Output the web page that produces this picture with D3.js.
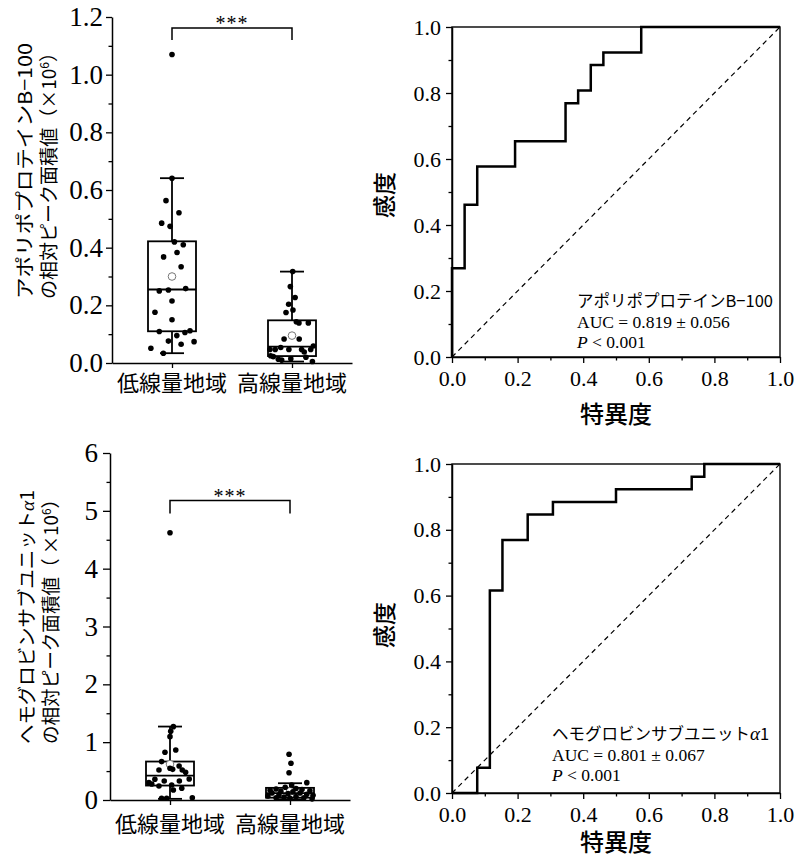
<!DOCTYPE html>
<html><head><meta charset="utf-8">
<script src="https://cdn.jsdelivr.net/npm/d3@7"></script>
<style>
body{margin:0;background:#fff}
svg{display:block}
</style>
</head><body>
<svg id="c" width="796" height="857"></svg>
<script>
// ---------------- DATA ----------------
const categories = ["低線量地域", "高線量地域"];

// Apolipoprotein B-100 relative peak area (×10^6)
const apoLowValues  = [1.07, 0.641, 0.563, 0.521, 0.485, 0.474, 0.420, 0.410, 0.383, 0.368, 0.334, 0.250, 0.253, 0.258, 0.215, 0.176, 0.150, 0.109, 0.106, 0.112, 0.095, 0.076, 0.065, 0.074, 0.051, 0.034];
const apoLowJitter  = [0, 0, -0.25, 0.29, -0.43, -0.08, 0.10, 0.47, 0.21, -0.35, 0.38, -0.53, -0.15, 0.57, 0, -0.71, 0, -0.53, 0.54, 0.75, 0.20, -0.15, 0.38, 0.92, -0.88, -0.36];
const apoHighValues = [0.317, 0.265, 0.227, 0.204, 0.184, 0.175, 0.143, 0.139, 0.139, 0.083, 0.083, 0.047, 0.047, 0.054, 0.047, 0.047, 0.038, 0.047, 0.059, 0.025, 0.022, 0.013, 0.010, 0.015, 0.020, 0.005];
const apoHighJitter = [0.03, -0.07, 0.13, -0.14, 0.04, -0.25, 0.18, 0.29, 0.68, -0.33, 0.30, -0.92, -0.70, -0.47, -0.13, 0.40, 0.51, 0.78, 0.89, -0.89, -0.78, -0.57, -0.43, -0.05, 0.58, 0.85];
// [whiskerLow, Q1, median, Q3, whiskerHigh, mean]
const apoLowStats  = [0.034, 0.110, 0.255, 0.422, 0.641, 0.300];
const apoHighStats = [0.005, 0.024, 0.057, 0.148, 0.317, 0.095];
const apoTicks = [0, 0.2, 0.4, 0.6, 0.8, 1.0, 1.2];
const apoMinorTicks = [0.1, 0.3, 0.5, 0.7, 0.9, 1.1];

// Hemoglobin subunit alpha 1 relative peak area (×10^6)
const hbLowValues  = [4.62, 1.268, 1.19, 1.095, 0.825, 0.865, 0.663, 0.548, 0.530, 0.588, 0.519, 0.479, 0.519, 0.363, 0.329, 0.358, 0.329, 0.300, 0.277, 0.242, 0.260, 0.173, 0.202, 0.029, 0.029, 0.040];
const hbLowJitter  = [0, 0.14, 0.03, 0, -0.21, 0.24, -0.35, 0, 0.11, 0.38, 0.51, 0.65, -0.46, 0.80, 0.39, -0.63, -0.24, -0.88, -0.76, -0.46, 0.07, 0.14, 0.49, -0.35, -0.14, 0.93];
const hbHighValues = [0.79, 0.635, 0.472, 0.30, 0.26, 0.22, 0.20, 0.19, 0.18, 0.17, 0.15, 0.16, 0.14, 0.12, 0.11, 0.12, 0.10, 0.09, 0.08, 0.07, 0.06, 0.05, 0.04, 0.04, 0.03, 0.02];
const hbHighJitter = [-0.04, 0.04, -0.04, 0.70, 0.07, -0.20, 0.25, -0.58, 0.50, -0.83, -0.38, 0.83, 0.12, -0.75, -0.08, 0.42, 0.70, -0.46, 0.96, -0.92, 0.25, -0.25, -0.58, 0.58, 0, 0.92];
const hbLowStats  = [0.02, 0.25, 0.42, 0.665, 1.27, 0.62];
const hbHighStats = [0.01, 0.04, 0.12, 0.21, 0.29, 0.15];
const hbTicks = [0, 1, 2, 3, 4, 5, 6];
const hbMinorTicks = [0.5, 1.5, 2.5, 3.5, 4.5, 5.5];

// ROC curves (1 - specificity, sensitivity) step corners
const roc1Fpr = [0, 0, 0.0385, 0.0769, 0.1923, 0.3462, 0.3846, 0.4231, 0.4615, 0.5769, 1.0];
const roc1Tpr = [0, 0.2692, 0.4615, 0.5769, 0.6538, 0.7692, 0.8077, 0.8846, 0.9231, 1.0, 1.0];
const roc2Fpr = [0, 0.0769, 0.1154, 0.1538, 0.2308, 0.3077, 0.5000, 0.7308, 0.7692, 1.0];
const roc2Tpr = [0, 0.0769, 0.6154, 0.7692, 0.8462, 0.8846, 0.9231, 0.9615, 1.0, 1.0];
const rocTicks = [0, 0.2, 0.4, 0.6, 0.8, 1.0];
const rocMinorTicks = [0.1, 0.3, 0.5, 0.7, 0.9];

const roc1Name = "アポリポプロテインB−100";
const roc1Auc = "AUC = 0.819 ± 0.056";
const roc2Name = "ヘモグロビンサブユニット";
const roc2Auc = "AUC = 0.801 ± 0.067";
const pText = " < 0.001";

// ---------------- DRAW ----------------
const SERIF = "'Liberation Serif','Times New Roman',serif";
const JP = "'Noto Sans CJK JP','Noto Sans',sans-serif";
const svg = d3.select("#c");

function styleAxis(sel, fontSize) {
  sel.attr("font-family", null).attr("font-size", null);
  sel.selectAll("path.domain").attr("stroke", "#000").attr("stroke-width", 1.5);
  sel.selectAll(".tick line").attr("stroke", "#000").attr("stroke-width", 1.3);
  sel.selectAll(".tick text")
    .style("font-family", SERIF).style("font-size", fontSize + "px").attr("fill", "#000");
}

function drawBoxPanel(cfg) {
  const g = svg.append("g");
  const y = d3.scaleLinear().domain([0, cfg.max]).range([cfg.yBottom, cfg.yTop]);
  const x = d3.scalePoint().domain(categories).range([cfg.xLeft, cfg.xRight]).padding(0.5);
  const hw = 24, cap = 12;

  const ya = g.append("g").attr("transform", `translate(${cfg.xLeft},0)`)
    .call(d3.axisLeft(y).tickValues(cfg.ticks).tickFormat(cfg.fmt).tickSize(cfg.tick).tickPadding(cfg.pad).tickSizeOuter(0));
  styleAxis(ya, cfg.tickFont);
  const ym = g.append("g").attr("transform", `translate(${cfg.xLeft},0)`)
    .call(d3.axisLeft(y).tickValues(cfg.minor).tickFormat("").tickSize(3.5).tickSizeOuter(0));
  ym.select("path.domain").remove();
  styleAxis(ym, cfg.tickFont);
  const xa = g.append("g").attr("transform", `translate(0,${cfg.yBottom})`)
    .call(d3.axisBottom(x).tickSize(5).tickSizeOuter(0).tickFormat(""));
  styleAxis(xa, cfg.tickFont);

  g.selectAll("text.cat").data(categories).join("text")
    .style("font-family", JP).attr("x", d => x(d)).attr("y", cfg.yBottom + cfg.catDy)
    .attr("text-anchor", "middle").style("font-size", "22px").attr("fill", "#000").text(d => d);

  cfg.groups.forEach((grp, i) => {
    const cx = x(categories[i]);
    const [wl, q1, md, q3, wh, mean] = grp.stats;
    const bg = g.append("g").attr("stroke", "#000").attr("stroke-width", 1.8).attr("fill", "none");
    bg.append("rect").attr("x", cx - hw).attr("y", y(q3)).attr("width", hw * 2).attr("height", y(q1) - y(q3));
    bg.append("line").attr("x1", cx - hw).attr("x2", cx + hw).attr("y1", y(md)).attr("y2", y(md));
    bg.append("line").attr("x1", cx).attr("x2", cx).attr("y1", y(q3)).attr("y2", y(wh));
    bg.append("line").attr("x1", cx).attr("x2", cx).attr("y1", y(q1)).attr("y2", y(wl));
    bg.append("line").attr("x1", cx - cap).attr("x2", cx + cap).attr("y1", y(wh)).attr("y2", y(wh));
    bg.append("line").attr("x1", cx - cap).attr("x2", cx + cap).attr("y1", y(wl)).attr("y2", y(wl));
    g.append("circle").attr("cx", cx).attr("cy", y(mean)).attr("r", 3.8)
      .attr("fill", "#fff").attr("stroke", "#777").attr("stroke-width", 1);
    g.append("g").selectAll("circle").data(grp.values).join("circle")
      .attr("cx", (d, j) => cx + grp.jitter[j] * hw)
      .attr("cy", d => y(d)).attr("r", 2.8).attr("fill", "#000");
  });

  const x0 = x(categories[0]), x1 = x(categories[1]);
  g.append("path")
    .attr("d", `M${x0},${cfg.bracketY + cfg.bracketDrop}V${cfg.bracketY}H${x1}V${cfg.bracketY + cfg.bracketDrop}`)
    .attr("fill", "none").attr("stroke", "#000").attr("stroke-width", 1.5);
  g.append("text").style("font-family", SERIF).attr("x", (x0 + x1) / 2).attr("y", cfg.bracketY + 2)
    .attr("text-anchor", "middle").style("font-size", "20px").attr("letter-spacing", 1).text("***");

  const t = g.append("g").attr("transform", `translate(0,${cfg.titleCy}) rotate(-90)`);
  const l1 = t.append("text").style("font-family", JP).attr("x", 0).attr("y", cfg.title1X)
    .attr("text-anchor", "middle").style("font-size", "19px").attr("fill", "#000")
    .attr("textLength", cfg.titleLen).attr("lengthAdjust", "spacingAndGlyphs");
  cfg.title1(l1);
  const l2 = t.append("text").style("font-family", JP).attr("x", 0).attr("y", cfg.title2X)
    .attr("text-anchor", "middle").style("font-size", "19px").attr("fill", "#000")
    .attr("textLength", cfg.titleLen).attr("lengthAdjust", "spacingAndGlyphs");
  l2.append("tspan").text("の相対ピーク面積値" + cfg.parenOpen + "×10");
  l2.append("tspan").style("font-size", "12px").attr("dy", -7).text("6");
  l2.append("tspan").attr("dy", 7).text("）");
}

function drawRoc(cfg) {
  const g = svg.append("g");
  const x = d3.scaleLinear().domain([0, 1]).range([452, 780]);
  const y = d3.scaleLinear().domain([0, 1]).range([cfg.yBottom, cfg.yTop]);
  const fmt = d3.format(".1f");

  const ya = g.append("g").attr("transform", "translate(452,0)")
    .call(d3.axisLeft(y).tickValues(rocTicks).tickFormat(fmt).tickSize(6).tickPadding(5).tickSizeOuter(0));
  styleAxis(ya, 22);
  const ym = g.append("g").attr("transform", "translate(452,0)")
    .call(d3.axisLeft(y).tickValues(rocMinorTicks).tickFormat("").tickSize(3.5).tickSizeOuter(0));
  ym.select("path.domain").remove(); styleAxis(ym, 22);
  const xa = g.append("g").attr("transform", `translate(0,${cfg.yBottom})`)
    .call(d3.axisBottom(x).tickValues(rocTicks).tickFormat(fmt).tickSize(6).tickPadding(7).tickSizeOuter(0));
  styleAxis(xa, 22);
  const xm = g.append("g").attr("transform", `translate(0,${cfg.yBottom})`)
    .call(d3.axisBottom(x).tickValues(rocMinorTicks).tickFormat("").tickSize(3.5).tickSizeOuter(0));
  xm.select("path.domain").remove(); styleAxis(xm, 22);

  g.append("rect").attr("x", x(0)).attr("y", y(1)).attr("width", x(1) - x(0)).attr("height", y(0) - y(1))
    .attr("fill", "none").attr("stroke", "#000").attr("stroke-width", 1.4);

  g.append("line").attr("x1", x(0)).attr("y1", y(0)).attr("x2", x(1)).attr("y2", y(1))
    .attr("stroke", "#000").attr("stroke-width", 1.2).attr("stroke-dasharray", "5,4");

  const pts = cfg.fpr.map((f, i) => [f, cfg.tpr[i]]);
  g.append("path").attr("d", d3.line().x(d => x(d[0])).y(d => y(d[1])).curve(d3.curveStepAfter)(pts))
    .attr("fill", "none").attr("stroke", "#000").attr("stroke-width", 2.5);

  const n = g.append("text").style("font-family", JP).attr("x", cfg.textX).attr("y", cfg.textY)
    .style("font-size", "16.5px").attr("fill", "#000");
  cfg.name(n);
  g.append("text").style("font-family", SERIF).attr("x", cfg.textX).attr("y", cfg.textY + 20.5)
    .style("font-size", "17.5px").attr("fill", "#000").text(cfg.auc);
  const p = g.append("text").style("font-family", SERIF).attr("x", cfg.textX).attr("y", cfg.textY + 40.5)
    .style("font-size", "17.5px").attr("fill", "#000");
  p.append("tspan").style("font-style", "italic").text("P");
  p.append("tspan").text(pText);

  g.append("text").style("font-family", JP).attr("x", 616).attr("y", cfg.xTitleY)
    .attr("text-anchor", "middle").style("font-size", "24px").style("font-weight", 500).text("特異度");
  g.append("text").style("font-family", JP)
    .attr("transform", `translate(393,${cfg.yTitleCy}) rotate(-90)`)
    .attr("text-anchor", "middle").style("font-size", "23px").style("font-weight", 500).text("感度");
}

drawBoxPanel({
  max: 1.2, yBottom: 363, yTop: 17, xLeft: 112, xRight: 352,
  ticks: apoTicks, minor: apoMinorTicks, fmt: d3.format(".1f"), tick: 6, pad: 3, tickFont: 27,
  catDy: 28, bracketY: 28, bracketDrop: 12,
  titleCy: 171, title1X: 32, title2X: 56, parenOpen: "（", titleLen: 256,
  title1: s => s.text("アポリポプロテインB−100"),
  groups: [
    { values: apoLowValues, jitter: apoLowJitter, stats: apoLowStats },
    { values: apoHighValues, jitter: apoHighJitter, stats: apoHighStats }
  ]
});

drawBoxPanel({
  max: 6, yBottom: 800, yTop: 453, xLeft: 110, xRight: 350,
  ticks: hbTicks, minor: hbMinorTicks, fmt: d3.format("d"), tick: 7, pad: 5, tickFont: 27,
  catDy: 32, bracketY: 500.5, bracketDrop: 13,
  titleCy: 617, title1X: 34, title2X: 58, parenOpen: "（ ", titleLen: 254,
  title1: s => { s.append("tspan").text("ヘモグロビンサブユニット");
                 s.append("tspan").style("font-family", SERIF).style("font-style", "italic").text("α");
                 s.append("tspan").text("1"); },
  groups: [
    { values: hbLowValues, jitter: hbLowJitter, stats: hbLowStats },
    { values: hbHighValues, jitter: hbHighJitter, stats: hbHighStats }
  ]
});

drawRoc({
  yBottom: 357, yTop: 27, fpr: roc1Fpr, tpr: roc1Tpr,
  textX: 577, textY: 307, auc: roc1Auc,
  name: s => s.text(roc1Name),
  xTitleY: 423, yTitleCy: 195
});

drawRoc({
  yBottom: 793, yTop: 464, fpr: roc2Fpr, tpr: roc2Tpr,
  textX: 552, textY: 740, auc: roc2Auc,
  name: s => { s.append("tspan").text(roc2Name);
               s.append("tspan").style("font-family", SERIF).style("font-style", "italic").style("font-size", "19px").text("α");
               s.append("tspan").text("1"); },
  xTitleY: 851, yTitleCy: 625
});
</script>
</body></html>
